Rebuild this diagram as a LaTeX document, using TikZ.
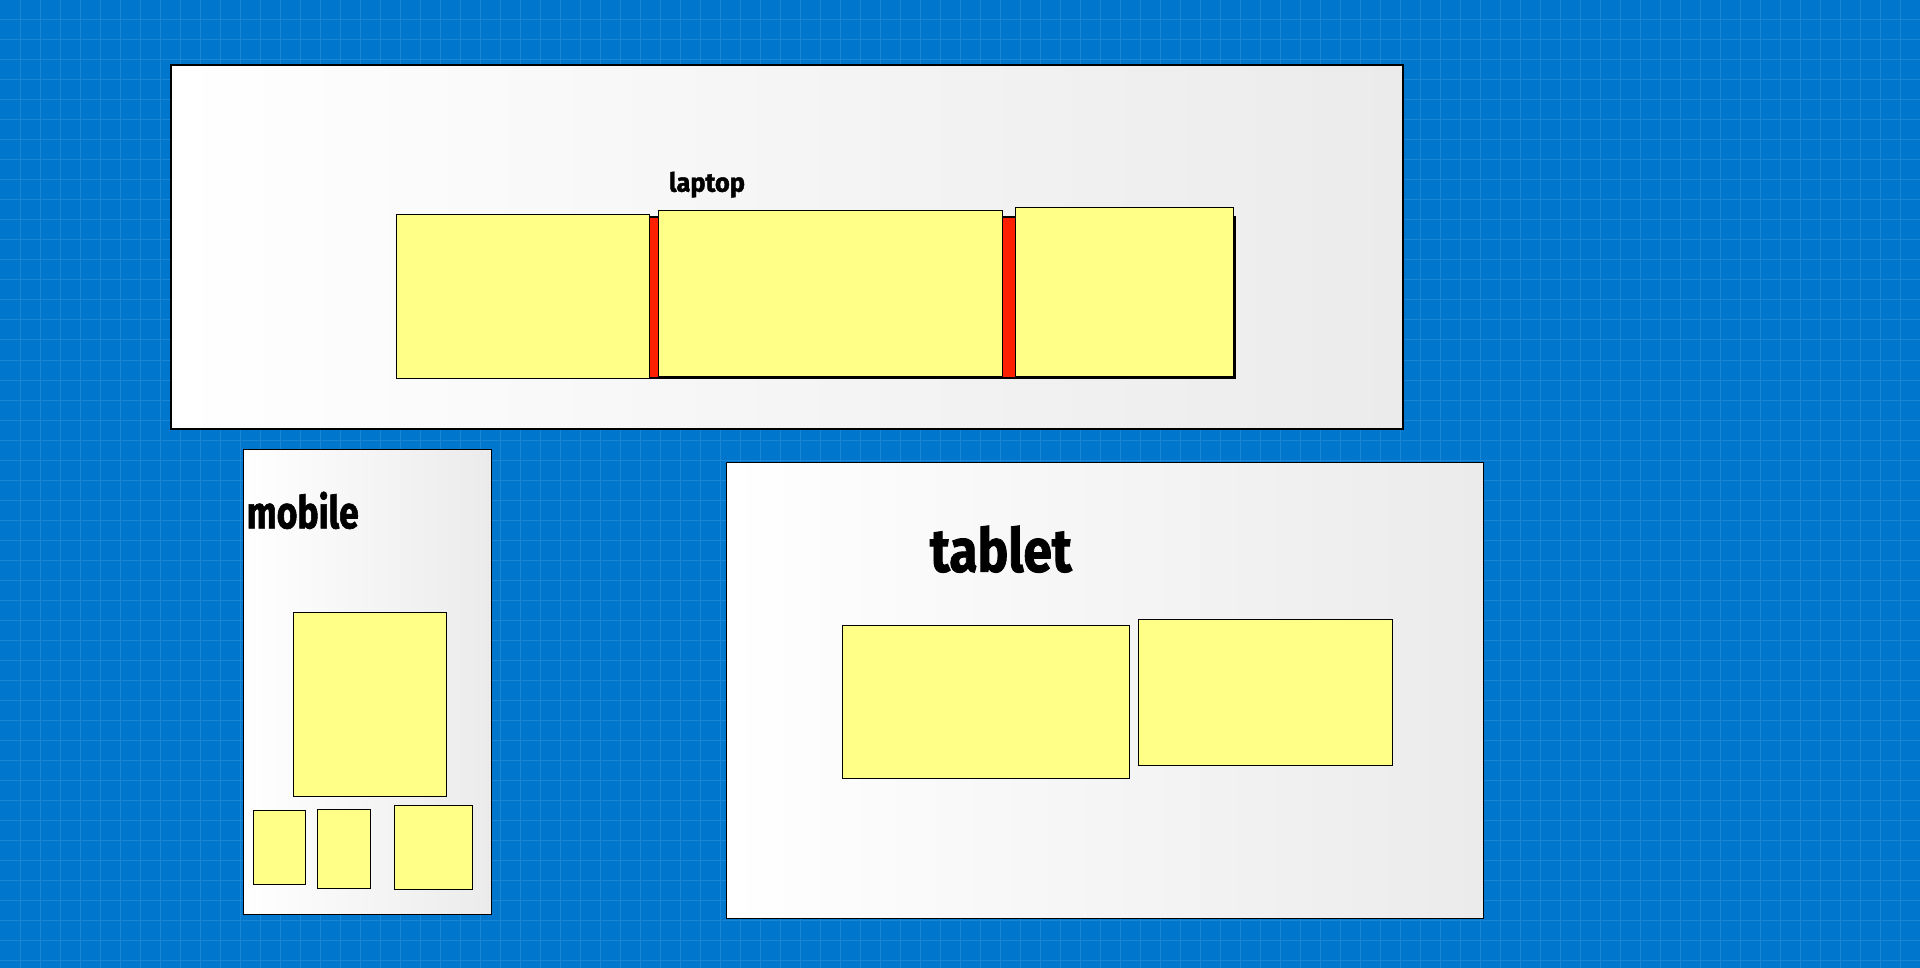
\documentclass[tikz,border=0pt]{standalone}
\usepackage{fontspec}
\setmainfont{Fira Sans}
\newfontfamily\heavyfont{Fira Sans}[UprightFont={* Bold}, FakeBold=1.5]
\definecolor{bpblue}{HTML}{0077CD}
\definecolor{bpgrid}{HTML}{1A86D4}
\definecolor{panelgray}{HTML}{EBEBEB}
\definecolor{stickyyellow}{HTML}{FFFF88}
\definecolor{barred}{HTML}{FF2000}
\tikzset{
  panel/.style={draw=black, line width=1.2pt, left color=white, right color=panelgray, shading angle=90,
    anchor=north west, inner sep=0pt, outer sep=0pt},
  sticky/.style={draw=black, line width=1pt, fill=stickyyellow, anchor=north west, inner sep=0pt, outer sep=0pt},
  redbar/.style={draw=black, line width=1.6pt, fill=barred, anchor=north west, inner sep=0pt, outer sep=0pt},
  label/.style={anchor=base west, inner sep=0pt, outer sep=0pt, text=black},
  gridline/.style={draw=bpgrid, line width=1pt}
}
\newcommand{\boxat}[6]{%
  \node[#1, minimum width=#5pt-#3pt, minimum height=#6pt-#4pt] (#2) at (#3,#4) {};}
\begin{document}
\begin{tikzpicture}[x=1pt,y=-1pt]
  \useasboundingbox (0,0) rectangle (1920,968);
  \fill[bpblue] (0,0) rectangle (1920,968);
  \foreach \gx in {20,40,...,1900} { \draw[gridline] (\gx,0) -- (\gx,968); }
  \foreach \gy in {20,40,...,960} { \draw[gridline] (0,\gy) -- (1920,\gy); }

  % laptop
  \boxat{panel}{laptop}{171}{65}{1403}{429}
  \boxat{redbar}{lapred}{649.5}{217.3}{1234.8}{377.9}
  \boxat{sticky}{lapA}{396.5}{214.3}{649.5}{378.3}
  \boxat{sticky}{lapB}{658.3}{210.3}{1002.2}{376.7}
  \boxat{sticky}{lapC}{1015.2}{207.3}{1233.9}{376.7}
  \node[label] (laptopT) at (669,191.7) {\resizebox{76pt}{20pt}{\heavyfont laptop}};

  % mobile
  \boxat{panel}{mobile}{243.3}{449.3}{491.7}{914.3}
  \node[label] (mobileT) at (246.7,528.3) {\resizebox{112pt}{36.6pt}{\heavyfont mobile}};
  \boxat{sticky}{mobA}{293.3}{612.3}{446.7}{796.3}
  \boxat{sticky}{mobB}{253.3}{810.3}{305.7}{884.3}
  \boxat{sticky}{mobC}{317.3}{809.3}{370.7}{888.3}
  \boxat{sticky}{mobD}{394.3}{805.3}{472.7}{889.3}

  % tablet
  \boxat{panel}{tablet}{726.5}{462.7}{1483.2}{918.3}
  \node[label] (tabletT) at (930,571.7) {\resizebox{141.7pt}{46pt}{\heavyfont tablet}};
  \boxat{sticky}{tabA}{842.3}{625.3}{1129.6}{778.3}
  \boxat{sticky}{tabB}{1138.3}{619.3}{1392.3}{765.3}
\end{tikzpicture}
\end{document}
